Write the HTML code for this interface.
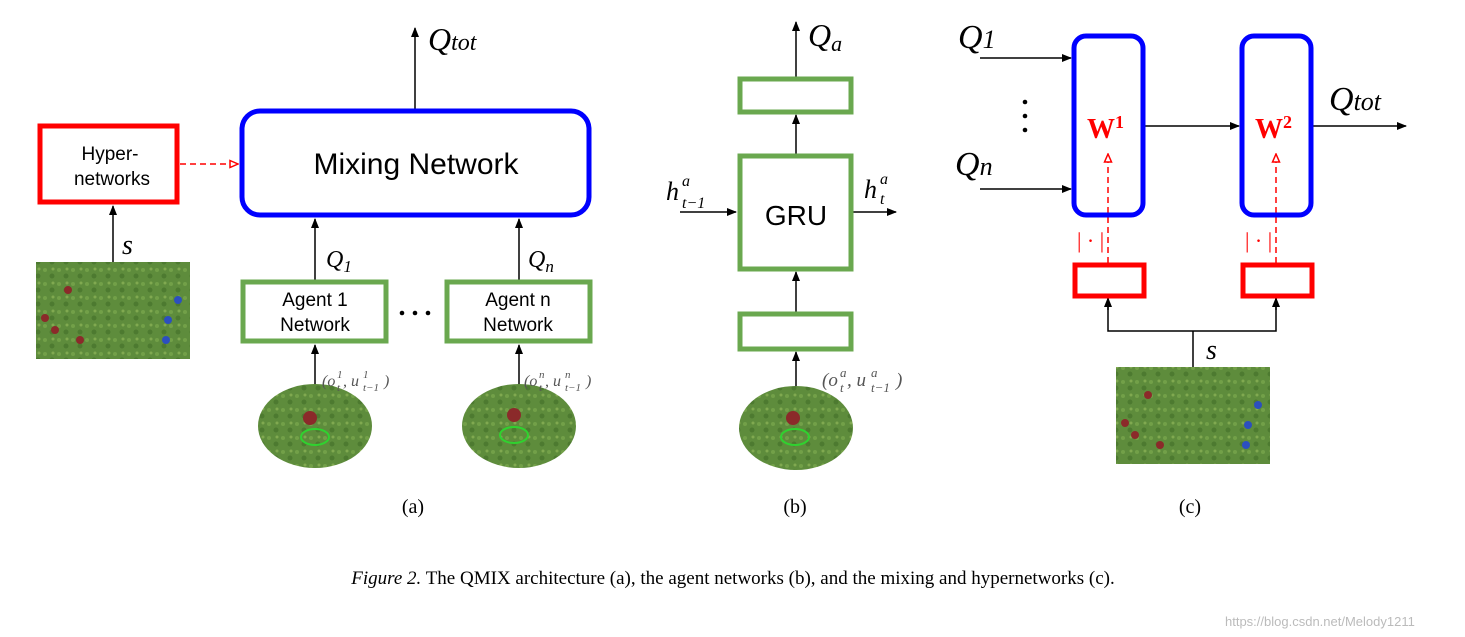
<!DOCTYPE html>
<html><head><meta charset="utf-8"><style>
body{margin:0;background:#fff}
svg{display:block}
.m{font-family:"Liberation Serif",serif;font-style:italic}
.s{font-family:"Liberation Sans",sans-serif}
</style></head><body>
<svg width="1465" height="637" viewBox="0 0 1465 637" xmlns="http://www.w3.org/2000/svg">
<defs>
<marker id="a" markerWidth="10" markerHeight="10" refX="9" refY="5" orient="auto" markerUnits="userSpaceOnUse"><path d="M0,1 L10,5 L0,9 Z" fill="#000"/></marker>
<marker id="r" markerWidth="10" markerHeight="10" refX="9" refY="5" orient="auto" markerUnits="userSpaceOnUse"><path d="M1,1.5 L9,5 L1,8.5 Z" fill="#fff" stroke="#f00" stroke-width="1.5" stroke-dasharray="none"/></marker>
<pattern id="g" width="14" height="14" patternUnits="userSpaceOnUse">
<rect width="14" height="14" fill="#5e8c3c"/><circle cx="3" cy="4" r="2" fill="#72a048"/><circle cx="10" cy="10" r="2.5" fill="#4d7a30"/><circle cx="11" cy="3" r="1.5" fill="#80a950"/>
</pattern>
</defs>
<g fill="none" stroke="#000" stroke-width="1.5">
<line x1="113" y1="262" x2="113" y2="206" marker-end="url(#a)"/>
<line x1="415" y1="110" x2="415" y2="28" marker-end="url(#a)"/>
<line x1="315" y1="280" x2="315" y2="219" marker-end="url(#a)"/>
<line x1="519" y1="280" x2="519" y2="219" marker-end="url(#a)"/>
<line x1="315" y1="390" x2="315" y2="345" marker-end="url(#a)"/>
<line x1="519" y1="390" x2="519" y2="345" marker-end="url(#a)"/>
<line x1="796" y1="392" x2="796" y2="352" marker-end="url(#a)"/>
<line x1="796" y1="313" x2="796" y2="272" marker-end="url(#a)"/>
<line x1="796" y1="155" x2="796" y2="115" marker-end="url(#a)"/>
<line x1="796" y1="78" x2="796" y2="22" marker-end="url(#a)"/>
<line x1="680" y1="212" x2="736" y2="212" marker-end="url(#a)"/>
<line x1="852" y1="212" x2="896" y2="212" marker-end="url(#a)"/>
<line x1="980" y1="58" x2="1071" y2="58" marker-end="url(#a)"/>
<line x1="980" y1="189" x2="1071" y2="189" marker-end="url(#a)"/>
<line x1="1145" y1="126" x2="1239" y2="126" marker-end="url(#a)"/>
<line x1="1313" y1="126" x2="1406" y2="126" marker-end="url(#a)"/>
<polyline points="1108,297 1108,331 1276,331 1276,297"/>
<line x1="1108" y1="310" x2="1108" y2="298" marker-end="url(#a)"/>
<line x1="1276" y1="310" x2="1276" y2="298" marker-end="url(#a)"/>
<line x1="1193" y1="367" x2="1193" y2="331"/>
</g>
<g fill="none" stroke="#f00" stroke-width="1.5">
<line x1="180" y1="164" x2="238" y2="164" stroke-dasharray="6,4" marker-end="url(#r)"/>
<line x1="1108" y1="263" x2="1108" y2="154" stroke-dasharray="6,4" marker-end="url(#r)"/>
<line x1="1276" y1="263" x2="1276" y2="154" stroke-dasharray="6,4" marker-end="url(#r)"/>
</g>
<rect x="40" y="126" width="137" height="76" fill="#fff" stroke="#f00" stroke-width="5"/>
<rect x="242" y="111" width="347" height="104" rx="18" fill="#fff" stroke="#00f" stroke-width="5"/>
<g fill="#fff" stroke="#6aa84f" stroke-width="5">
<rect x="243" y="282" width="143" height="59"/>
<rect x="447" y="282" width="143" height="59"/>
<rect x="740" y="79" width="111" height="33"/>
<rect x="740" y="156" width="111" height="113"/>
<rect x="740" y="314" width="111" height="35"/>
</g>
<rect x="1074" y="36" width="69" height="179" rx="12" fill="none" stroke="#00f" stroke-width="5"/>
<rect x="1242" y="36" width="69" height="179" rx="12" fill="none" stroke="#00f" stroke-width="5"/>
<rect x="1075" y="265" width="69" height="31" fill="none" stroke="#f00" stroke-width="5"/>
<rect x="1243" y="265" width="69" height="31" fill="none" stroke="#f00" stroke-width="5"/>
<rect x="36" y="262" width="154" height="97" fill="url(#g)"/>
<rect x="1116" y="367" width="154" height="97" fill="url(#g)"/>
<ellipse cx="315" cy="426" rx="57" ry="42" fill="url(#g)"/>
<ellipse cx="519" cy="426" rx="57" ry="42" fill="url(#g)"/>
<ellipse cx="796" cy="428" rx="57" ry="42" fill="url(#g)"/>
<g fill="#8b2a2a"><circle cx="310" cy="418" r="7"/><circle cx="514" cy="415" r="7"/><circle cx="793" cy="418" r="7"/>
<circle cx="68" cy="290" r="4"/><circle cx="45" cy="318" r="4"/><circle cx="55" cy="330" r="4"/><circle cx="80" cy="340" r="4"/>
<circle cx="1148" cy="395" r="4"/><circle cx="1125" cy="423" r="4"/><circle cx="1135" cy="435" r="4"/><circle cx="1160" cy="445" r="4"/></g>
<g fill="#2c4fbf"><circle cx="178" cy="300" r="4"/><circle cx="168" cy="320" r="4"/><circle cx="166" cy="340" r="4"/>
<circle cx="1258" cy="405" r="4"/><circle cx="1248" cy="425" r="4"/><circle cx="1246" cy="445" r="4"/></g>
<g fill="none" stroke="#2fd22f" stroke-width="2"><ellipse cx="315" cy="437" rx="14" ry="8"/><ellipse cx="514" cy="435" rx="14" ry="8"/><ellipse cx="795" cy="437" rx="14" ry="8"/></g>
<g class="s" fill="#000" text-anchor="middle">
<text x="110" y="160" font-size="19">Hyper-</text>
<text x="112" y="185" font-size="19">networks</text>
<text x="416" y="174" font-size="30">Mixing Network</text>
<text x="315" y="306" font-size="19">Agent 1</text>
<text x="315" y="331" font-size="19">Network</text>
<text x="518" y="306" font-size="19">Agent n</text>
<text x="518" y="331" font-size="19">Network</text>
<text x="796" y="225" font-size="28">GRU</text>
</g>
<g>
<circle cx="402" cy="313" r="2.3"/><circle cx="415" cy="313" r="2.3"/><circle cx="428" cy="313" r="2.3"/>
<circle cx="1025" cy="102" r="2.3"/><circle cx="1025" cy="116" r="2.3"/><circle cx="1025" cy="130" r="2.3"/>
</g>
<g class="m" fill="#000">
<text x="428" y="50" font-size="32">Q<tspan font-size="24">tot</tspan></text>
<text x="122" y="254" font-size="28">s</text>
<text x="326" y="267" font-size="24">Q<tspan font-size="17" dy="5">1</tspan></text>
<text x="528" y="267" font-size="24">Q<tspan font-size="17" dy="5">n</tspan></text>
<text x="808" y="46" font-size="32">Q<tspan font-size="22" dy="5">a</tspan></text>
<text x="666" y="200" font-size="26">h</text><text x="682" y="186" font-size="16">a</text><text x="682" y="208" font-size="16">t−1</text>
<text x="864" y="198" font-size="26">h</text><text x="880" y="184" font-size="16">a</text><text x="880" y="204" font-size="16">t</text>
<text x="958" y="48" font-size="34">Q<tspan font-size="26">1</tspan></text>
<text x="955" y="175" font-size="34">Q<tspan font-size="26">n</tspan></text>
<text x="1329" y="110" font-size="34">Q<tspan font-size="26">tot</tspan></text>
<text x="1206" y="359" font-size="28">s</text>
</g>
<g class="m" fill="#555">
<text x="322" y="386" font-size="16">(o</text><text x="337" y="378" font-size="11">1</text><text x="337" y="391" font-size="11">t</text>
<text x="343" y="386" font-size="16">, u</text><text x="363" y="378" font-size="11">1</text><text x="363" y="391" font-size="11">t−1</text><text x="384" y="386" font-size="16">)</text>
<text x="524" y="386" font-size="16">(o</text><text x="539" y="378" font-size="11">n</text><text x="539" y="391" font-size="11">t</text>
<text x="545" y="386" font-size="16">, u</text><text x="565" y="378" font-size="11">n</text><text x="565" y="391" font-size="11">t−1</text><text x="586" y="386" font-size="16">)</text>
<text x="822" y="386" font-size="19">(o</text><text x="840" y="377" font-size="13">a</text><text x="840" y="392" font-size="13">t</text>
<text x="847" y="386" font-size="19">, u</text><text x="871" y="377" font-size="13">a</text><text x="871" y="392" font-size="13">t−1</text><text x="896" y="386" font-size="19">)</text>
</g>
<g fill="#f00" font-family="Liberation Serif,serif" font-weight="bold">
<text x="1087" y="138" font-size="28">W<tspan font-size="18" dy="-10">1</tspan></text>
<text x="1255" y="138" font-size="28">W<tspan font-size="18" dy="-10">2</tspan></text>
<text x="1077" y="248" font-size="22" font-weight="normal">| · |</text>
<text x="1245" y="248" font-size="22" font-weight="normal">| · |</text>
</g>
<g font-family="Liberation Serif,serif" font-size="20" fill="#000" text-anchor="middle">
<text x="413" y="513">(a)</text>
<text x="795" y="513">(b)</text>
<text x="1190" y="513">(c)</text>
<text x="733" y="584" font-size="19"><tspan font-style="italic">Figure 2.</tspan> The QMIX architecture (a), the agent networks (b), and the mixing and hypernetworks (c).</text>
</g>
<text x="1225" y="626" font-family="Liberation Sans,sans-serif" font-size="13" fill="#bbb">https://blog.csdn.net/Melody1211</text>
</svg>
</body></html>
